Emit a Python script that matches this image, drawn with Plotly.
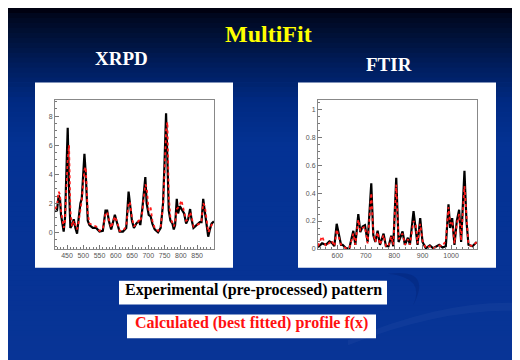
import plotly.graph_objects as go

# ---------------- data ----------------
xrpd_x = [413, 419.1, 424.3, 428.4, 431.5, 436.6, 439.7, 443.8, 447.9, 452.1, 456.2, 460.3, 465.4,
          470.6, 475.7, 480.9, 485, 491.2, 495.3, 503.5, 507.6, 513.8, 518.9, 529.2, 539.5, 549.8,
          560.1, 568.3, 573.5, 578.6, 585.8, 597.1, 604.4, 611.6, 621.8, 632.1, 639.3, 643.5, 649.6,
          655.8, 663, 671.2, 675.3, 681.5, 685.6, 690.8, 694.9, 701.1, 707.2, 712.4, 719.6, 729.9,
          738.1, 745.3, 749.4, 754.6, 758.7, 762.8, 768, 774.1, 778.3, 782.4, 787.5, 791.6, 796.8,
          801.9, 810.1, 816.3, 822.5, 828.6, 832.8, 838.9, 848.2, 858.5, 863.6, 868.8, 873.9, 879.1,
          884.2, 889.4, 894.5, 901.7]
xrpd_exp = [1.45, 1.5, 2.55, 2.3, 1.2, 0.3, 0.05, 1.0, 4.3, 7.2, 3.0, 0.3, 0.5,
            0.9, 0.3, -0.1, 0.8, 2.0, 2.3, 5.4, 4.0, 0.8, 0.5, 0.3, 0.3, 0.05,
            0.1, 1.5, 1.5, 0.8, 0.2, 1.2, 0.6, 0.05, 0.05, 0.3, 2.8, 1.8, 0.8,
            0.3, 0.6, 0.8, 0.5, 1.6, 2.7, 3.8, 2.0, 1.2, 1.1, 0.6, 0.2, 0.0,
            0.3, 2.0, 4.5, 8.2, 5.0, 1.5, 0.8, 0.6, 0.2, 0.5, 2.3, 1.3, 1.8,
            1.6, 1.3, 0.6, 0.9, 1.6, 0.9, 0.3, 0.5, 0.7, 0.7, 2.3, 1.4, 0.5,
            -0.3, 0.2, 0.6, 0.75]
xrpd_fit = [1.6, 1.8, 2.8, 2.6, 1.5, 0.5, 0.3, 0.8, 3.0, 5.0, 6.0, 1.5, 0.4,
            0.8, 0.5, 0.2, 0.6, 1.7, 2.2, 4.3, 4.5, 1.3, 0.6, 0.5, 0.4, 0.1,
            0.2, 1.3, 1.4, 0.9, 0.3, 1.1, 0.7, 0.1, 0.1, 0.4, 2.0, 2.1, 1.0,
            0.4, 0.6, 0.8, 0.7, 1.4, 2.3, 3.3, 3.1, 1.5, 1.7, 0.8, 0.3, 0.1,
            0.4, 1.8, 3.8, 7.0, 7.6, 2.5, 1.0, 0.6, 0.4, 0.6, 1.6, 1.7, 1.9,
            2.2, 1.5, 0.8, 0.9, 1.4, 1.1, 0.4, 0.5, 0.6, 0.8, 2.0, 1.8, 0.7,
            0.0, 0.2, 0.5, 0.7]

ftir_x = [532, 546.2, 560.2, 571.9, 580.1, 589.5, 597.7, 604.7, 612.9, 618.7, 630.4, 642.1,
          656.2, 663.2, 673.7, 680.7, 688.9, 697.1, 706.5, 719.3, 726.4, 733.4, 741.6, 749.8,
          762.6, 770.8, 780.2, 789.5, 796.6, 807.1, 815.3, 829.3, 837.5, 848, 855.1, 867.9,
          876.1, 882, 891.3, 899.5, 911.2, 925.3, 937, 958, 969.7, 981.4, 990.8, 996.6,
          1003.7, 1011.8, 1020, 1028.2, 1035.2, 1046.9, 1053.9, 1061, 1075, 1086.7, 1090]
ftir_exp = [0.012, 0.04, 0.03, 0.055, 0.045, 0.02, 0.18, 0.1, 0.03, 0.03, 0.005, 0.005,
            0.13, 0.03, 0.25, 0.12, 0.16, 0.17, 0.05, 0.47, 0.1, 0.05, 0.13, 0.03,
            0.11, 0.02, 0.02, 0.095, 0.02, 0.51, 0.05, 0.125, 0.03, 0.08, 0.03, 0.27,
            0.15, 0.03, 0.22, 0.05, 0.005, 0.025, 0.005, 0.03, 0.01, 0.02, 0.32, 0.15,
            0.22, 0.03, 0.2, 0.28, 0.05, 0.56, 0.2, 0.03, 0.02, 0.045, 0.05]
ftir_fit = [0.02, 0.09, 0.02, 0.04, 0.06, 0.02, 0.14, 0.09, 0.03, 0.02, 0.005, 0.005,
            0.11, 0.03, 0.21, 0.13, 0.15, 0.16, 0.04, 0.40, 0.12, 0.05, 0.12, 0.03,
            0.1, 0.02, 0.02, 0.09, 0.03, 0.46, 0.07, 0.11, 0.03, 0.07, 0.03, 0.2,
            0.17, 0.04, 0.18, 0.06, 0.005, 0.02, 0.005, 0.025, 0.02, 0.06, 0.3, 0.18,
            0.2, 0.04, 0.18, 0.25, 0.06, 0.45, 0.25, 0.03, 0.02, 0.04, 0.05]

xrpd_xticks = [450, 500, 550, 600, 650, 700, 750, 800, 850]
xrpd_yticks = [0, 2, 4, 6, 8]
ftir_xticks = [600, 700, 800, 900, 1000]
ftir_yticks = [0, 0.2, 0.4, 0.6, 0.8, 1]
ftir_yticklabels = ["0", "0.2", "0.4", "0.6", "0.8", "1"]

# ---------------- figure ----------------
W, H = 520, 360

def px(x):
    return x / W

def py(y):
    return 1 - y / H

fig = go.Figure()
fig.add_trace(go.Scatter(x=xrpd_x, y=xrpd_exp, mode="lines", xaxis="x", yaxis="y",
                         line=dict(color="black", width=2.2), showlegend=False))
fig.add_trace(go.Scatter(x=xrpd_x, y=xrpd_fit, mode="lines", xaxis="x", yaxis="y",
                         line=dict(color="#ff1a1a", width=1.8, dash="dot"), showlegend=False))
fig.add_trace(go.Scatter(x=ftir_x, y=ftir_exp, mode="lines", xaxis="x2", yaxis="y2",
                         line=dict(color="black", width=2.2), showlegend=False))
fig.add_trace(go.Scatter(x=ftir_x, y=ftir_fit, mode="lines", xaxis="x2", yaxis="y2",
                         line=dict(color="#ff1a1a", width=1.8, dash="dot"), showlegend=False))

tickfont = dict(family="Liberation Sans", size=7, color="#555555")
axis_common = dict(showline=True, linecolor="#888888", linewidth=1, mirror=True,
                   ticks="inside", ticklen=4, tickcolor="#777777", tickfont=tickfont,
                   showgrid=False, zeroline=False, fixedrange=True)

fig.update_layout(
    width=W, height=H,
    margin=dict(l=0, r=0, t=0, b=0),
    paper_bgcolor="#08348f",
    plot_bgcolor="rgba(0,0,0,0)",
    xaxis=dict(domain=[px(47), px(206)], range=[413, 902], anchor="y",
               tickmode="array", tickvals=xrpd_xticks,
               minor=dict(tickmode="linear", tick0=0, dtick=10, ticks="inside", ticklen=2,
                          tickcolor="#777777"),
               **axis_common),
    yaxis=dict(domain=[py(243), py(93)], range=[-1.15, 9.1], anchor="x",
               tickmode="array", tickvals=xrpd_yticks,
               minor=dict(tickmode="linear", tick0=0, dtick=0.5, ticks="inside", ticklen=2,
                          tickcolor="#777777"),
               **axis_common),
    xaxis2=dict(domain=[px(310), px(469)], range=[532, 1091], anchor="y2",
                tickmode="array", tickvals=ftir_xticks,
                minor=dict(tickmode="linear", tick0=0, dtick=20, ticks="inside", ticklen=2,
                           tickcolor="#777777"),
                **axis_common),
    yaxis2=dict(domain=[py(243), py(93)], range=[0, 1.064], anchor="x2",
                tickmode="array", tickvals=ftir_yticks, ticktext=ftir_yticklabels,
                minor=dict(tickmode="linear", tick0=0, dtick=0.05, ticks="inside", ticklen=2,
                           tickcolor="#777777"),
                **axis_common),
)

shapes = []
# background vertical gradient (top nearly black -> blue)
stops = [(0, (0, 0, 14)), (5, (0, 2, 20)), (8, (0, 8, 32)), (30, (0, 18, 58)),
         (60, (0, 30, 95)), (95, (0, 42, 130)), (140, (4, 50, 148)), (360, (8, 52, 150))]
n = 72
for i in range(n):
    y0 = i * H / n
    y1 = (i + 1) * H / n
    ym = (y0 + y1) / 2
    for (a, ca), (b, cb) in zip(stops[:-1], stops[1:]):
        if a <= ym <= b:
            t = (ym - a) / (b - a)
            c = tuple(int(round(ca[k] + t * (cb[k] - ca[k]))) for k in range(3))
            break
    shapes.append(dict(type="rect", xref="paper", yref="paper", x0=0, x1=1,
                       y0=py(y1 + 0.5), y1=py(y0), line=dict(width=0),
                       fillcolor="rgb(%d,%d,%d)" % c, layer="below"))
# subtle swooshes in lower right
shapes.append(dict(type="path", xref="paper", yref="paper", layer="below",
                   path="M %f %f Q %f %f %f %f L %f %f Q %f %f %f %f Z" % (
                       px(340), py(335), px(440), py(292), px(520), py(298),
                       px(520), py(306), px(440), py(300), px(340), py(340)),
                   fillcolor="rgba(110,140,210,0.08)", line=dict(width=0)))
shapes.append(dict(type="path", xref="paper", yref="paper", layer="below",
                   path="M %f %f Q %f %f %f %f Q %f %f %f %f Z" % (
                       px(380), py(268), px(425), py(262), px(405), py(300),
                       px(418), py(272), px(380), py(268)),
                   fillcolor="rgba(0,25,100,0.25)", line=dict(width=0)))
# white panels
for (x0, y0, x1, y1) in [(27, 75, 225, 262), (290, 75, 488, 262),
                         (111, 275, 379, 299), (119, 309, 368, 333)]:
    shapes.append(dict(type="rect", xref="paper", yref="paper", layer="below",
                       x0=px(x0), x1=px(x1), y0=py(y1), y1=py(y0),
                       fillcolor="white", line=dict(width=0)))
fig.update_layout(shapes=shapes)

serif = "Liberation Serif"
annotations = [
    dict(text="<b>MultiFit</b>", x=px(260), y=py(26), font=dict(family=serif, size=24, color="#ffff00")),
    dict(text="<b>XRPD</b>", x=px(113), y=py(51), font=dict(family=serif, size=19, color="white")),
    dict(text="<b>FTIR</b>", x=px(381), y=py(57), font=dict(family=serif, size=19, color="white")),
    dict(text="<b>Experimental (pre-processed) pattern</b>", x=px(245), y=py(284),
         font=dict(family=serif, size=16, color="black")),
    dict(text="<b>Calculated (best fitted) profile f(x)</b>", x=px(243.5), y=py(318),
         font=dict(family=serif, size=16, color="#ff1010")),
]
for a in annotations:
    a.update(xref="paper", yref="paper", showarrow=False, xanchor="center", yanchor="middle")
fig.update_layout(annotations=annotations)

fig.write_html("out.html")
